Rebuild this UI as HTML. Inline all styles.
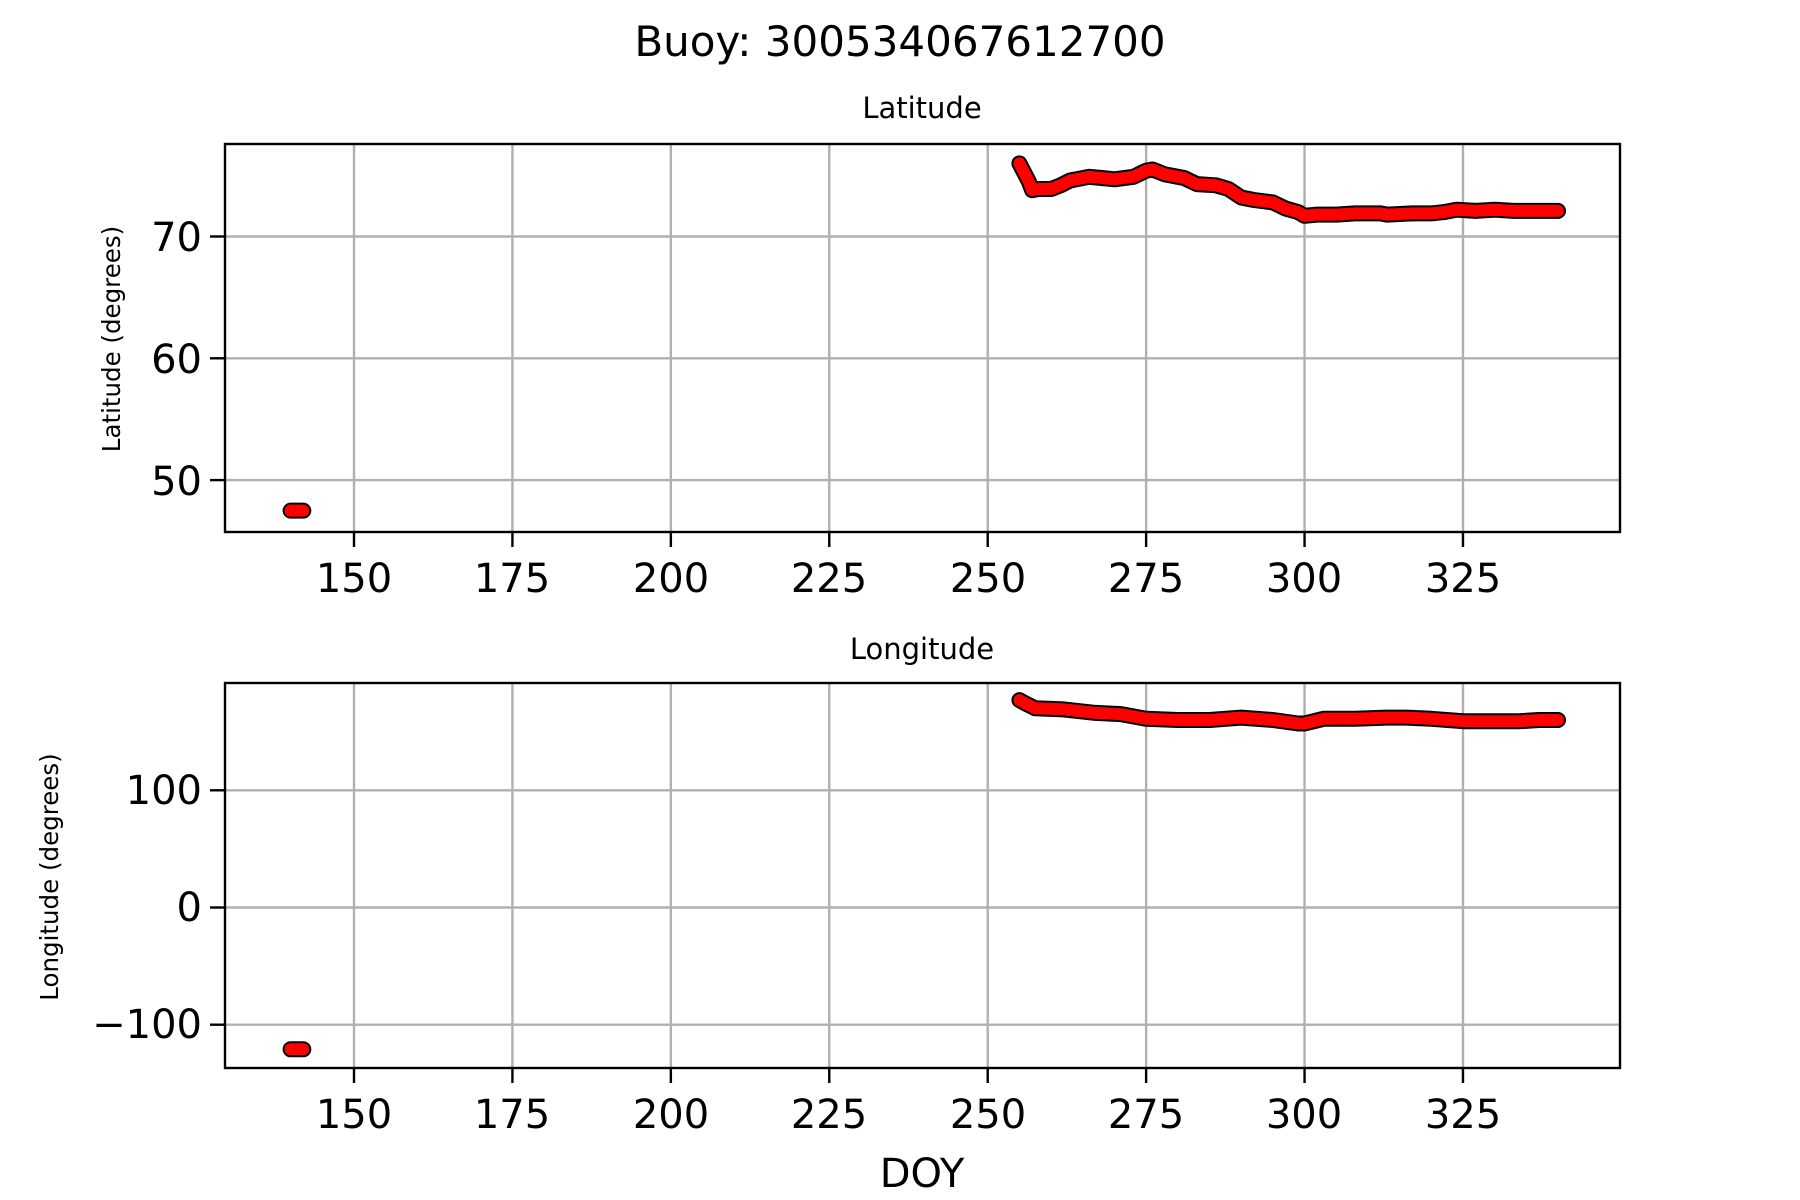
<!DOCTYPE html>
<html><head><meta charset="utf-8"><style>
html,body{margin:0;padding:0;background:#fff;}
svg{display:block;font-family:"DejaVu Sans","Liberation Sans",sans-serif;}
</style></head><body>
<svg id="s" width="1800" height="1200" viewBox="0 0 1800 1200" xmlns="http://www.w3.org/2000/svg">
<rect width="1800" height="1200" fill="#fff"/>
<g id="grid" stroke="#b0b0b0" stroke-width="2.4"></g>
<g id="data" fill="none" stroke-linejoin="round" stroke-linecap="round"></g>
<g fill="none" stroke="#000" stroke-width="2.4">
<rect x="225" y="144" width="1395" height="388"/>
<rect x="225" y="683" width="1395" height="385"/>
</g>
<g id="ticks" stroke="#000" stroke-width="2.4"></g>
<text x="900" y="56" font-size="42" text-anchor="middle">Buoy: 300534067612700</text>
<text x="922" y="118" font-size="29" text-anchor="middle">Latitude</text>
<text x="922" y="659" font-size="29" text-anchor="middle">Longitude</text>
<text x="922" y="1187" font-size="40" text-anchor="middle">DOY</text>
<text transform="translate(120,339) rotate(-90)" font-size="24.5" text-anchor="middle">Latitude (degrees)</text>
<text transform="translate(58,877) rotate(-90)" font-size="24.5" text-anchor="middle">Longitude (degrees)</text>
<g font-size="40" text-anchor="middle">
<text x="354" y="592">150</text><text x="512" y="592">175</text><text x="671" y="592">200</text><text x="829" y="592">225</text><text x="988" y="592">250</text><text x="1146" y="592">275</text><text x="1304" y="592">300</text><text x="1463" y="592">325</text>
<text x="354" y="1128">150</text><text x="512" y="1128">175</text><text x="671" y="1128">200</text><text x="829" y="1128">225</text><text x="988" y="1128">250</text><text x="1146" y="1128">275</text><text x="1304" y="1128">300</text><text x="1463" y="1128">325</text>
</g>
<g font-size="40" text-anchor="end">
<text x="202" y="251">70</text><text x="202" y="373">60</text><text x="202" y="495">50</text>
<text x="202" y="804">100</text><text x="202" y="921">0</text><text x="202" y="1038">−100</text>
</g>
</svg>
<script>
var X=d=>354+(d-150)*6.337, LY=v=>236.5-(v-70)*12.18, OY=v=>907.5-v*1.172;
var ns="http://www.w3.org/2000/svg";
function el(p,t,a){var e=document.createElementNS(ns,t);for(var k in a)e.setAttribute(k,a[k]);document.getElementById(p).appendChild(e);}
for(var d=150;d<=325;d+=25){var x=X(d);
el("grid","line",{x1:x,x2:x,y1:144,y2:532});el("grid","line",{x1:x,x2:x,y1:683,y2:1068});
el("ticks","line",{x1:x,x2:x,y1:532,y2:547});el("ticks","line",{x1:x,x2:x,y1:1068,y2:1083});}
[50,60,70].forEach(v=>{var y=LY(v);el("grid","line",{x1:225,x2:1620,y1:y,y2:y});el("ticks","line",{x1:210,x2:225,y1:y,y2:y});});
[-100,0,100].forEach(v=>{var y=OY(v);el("grid","line",{x1:225,x2:1620,y1:y,y2:y});el("ticks","line",{x1:210,x2:225,y1:y,y2:y});});
var lat=[[255,76],[255.8,75.2],[256.5,74.5],[257,73.8],[258,73.9],[260,73.9],[261.5,74.2],[263,74.6],[266,74.9],[268,74.8],[270,74.7],[273,74.9],[275,75.4],[276,75.5],[278,75.1],[281,74.8],[283,74.3],[286,74.2],[288,73.9],[290,73.2],[292,73.0],[295,72.8],[297,72.3],[299,72.0],[300,71.7],[302,71.8],[305,71.8],[308,71.9],[312,71.9],[313,71.8],[317,71.9],[320,71.9],[322,72.0],[324,72.2],[327,72.1],[330,72.2],[333,72.1],[337,72.1],[340,72.1]];
var lon=[[255,177],[256,174],[257.5,170],[262,169],[267,166],[271,165],[275,161],[280,160],[285,160],[290,162],[295,160],[299,157],[300,157],[303,161],[308,161],[313,162],[316,162],[320,161],[325,159],[330,159],[334,159],[337,160],[340,160]];
function path(pts,f){return pts.map((p,i)=>(i?"L":"M")+X(p[0]).toFixed(1)+" "+f(p[1]).toFixed(1)).join(" ");}
function draw(pts,f){var d=path(pts,f);el("data","path",{d:d,stroke:"#000","stroke-width":16});el("data","path",{d:d,stroke:"#f00","stroke-width":12});}
draw(lat,LY);draw([[140,47.5],[142,47.5]],LY);
draw(lon,OY);draw([[140,-121],[142,-121]],OY);
</script>
</body></html>
